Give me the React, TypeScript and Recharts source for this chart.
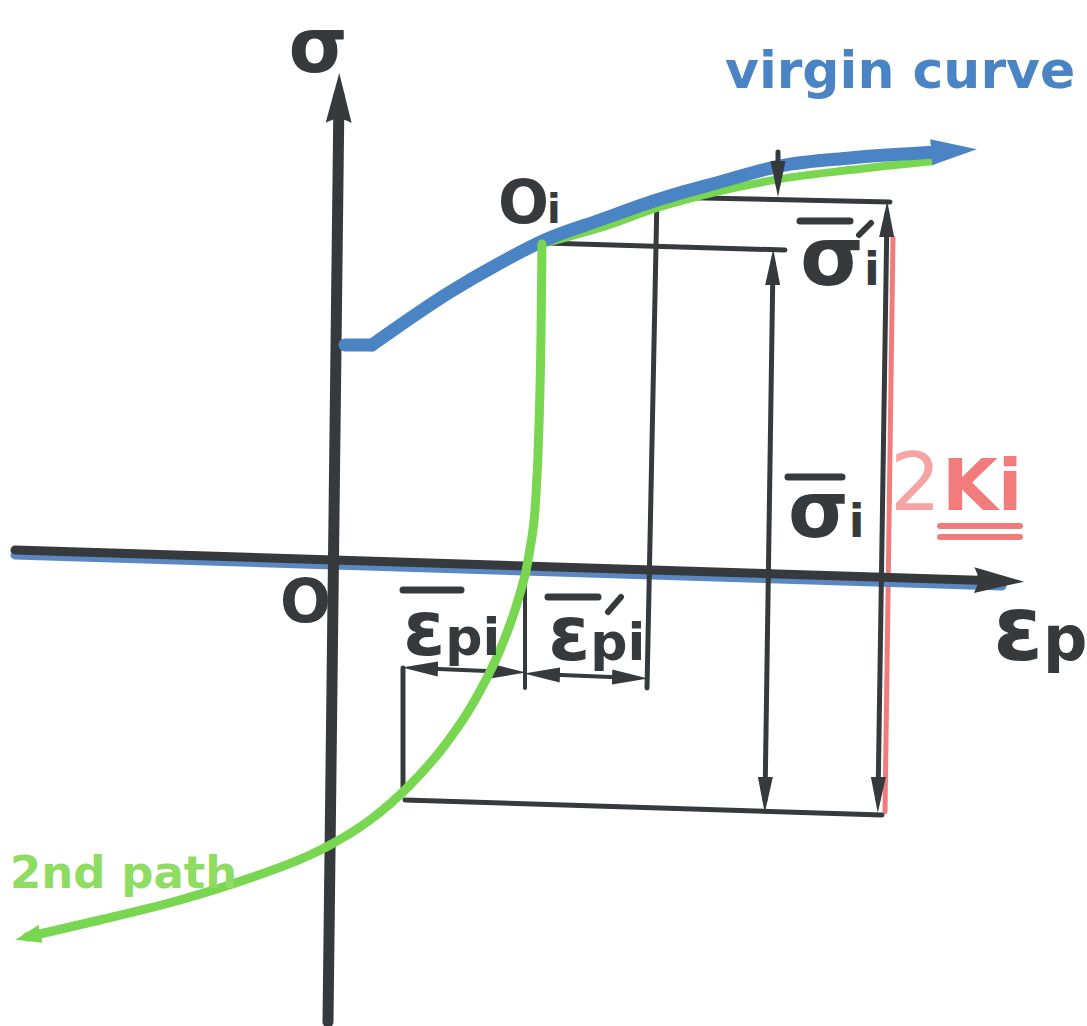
import React from 'react';
import { ComposedChart, Line, Scatter, XAxis, YAxis } from 'recharts';

const INK = '#363a3d';
const BLUE = '#4b84c4';
const GREEN = '#79d651';
const RED = '#f27c7c';
const FONT = '"DejaVu Sans", "Noto Sans", sans-serif';

type Pt = { x: number; y: number };

// sketch units: origin O at (0, 0), strain to the right, stress upwards
const sigmaAxis: Pt[] = [{ x: -2, y: -457 }, { x: 9, y: 470 }];
const strainAxis: Pt[] = [{ x: -315, y: 15 }, { x: 672, y: -16 }];

// initial yield plateau, then the hardening branch
const virginStart: Pt[] = [{ x: 15, y: 220 }, { x: 42, y: 220 }];
const virginCurve: Pt[] = [
  { x: 42, y: 220 }, { x: 120, y: 273 }, { x: 170, y: 302 }, { x: 215, y: 325 },
  { x: 270, y: 345 }, { x: 330, y: 366 }, { x: 390, y: 383 }, { x: 450, y: 399 },
  { x: 520, y: 407 }, { x: 590, y: 412 }, { x: 621, y: 414 },
];

const secondPathRise: Pt[] = [
  { x: -303, y: -372 }, { x: -230, y: -355 }, { x: -150, y: -335 }, { x: -80, y: -313 },
  { x: -20, y: -290 }, { x: 0, y: -280 }, { x: 40, y: -255 }, { x: 80, y: -220 },
  { x: 115, y: -180 }, { x: 145, y: -135 }, { x: 170, y: -85 }, { x: 188, y: -35 },
  { x: 199, y: 10 }, { x: 206, y: 70 }, { x: 209, y: 140 }, { x: 211, y: 230 },
  { x: 212, y: 321 },
];
const secondPathTop: Pt[] = [
  { x: 212, y: 321 }, { x: 270, y: 337 }, { x: 330, y: 358 }, { x: 390, y: 374 },
  { x: 450, y: 386 }, { x: 520, y: 395 }, { x: 603, y: 404 },
];

// dimension lines
const sigmaIPrimeLevel: Pt[] = [{ x: 325, y: 368 }, { x: 560, y: 363 }];
const epsPrimeEdge: Pt[] = [{ x: 327, y: 368 }, { x: 317, y: -123 }];
const sigmaIPrimeTick: Pt[] = [{ x: 448, y: 413 }, { x: 448, y: 381 }];
const sigmaILevel: Pt[] = [{ x: 215, y: 322 }, { x: 455, y: 315 }];
const sigmaIDim: Pt[] = [{ x: 443, y: 303 }, { x: 435, y: -235 }];
const kiDim: Pt[] = [{ x: 557, y: 351 }, { x: 548, y: -235 }];
const kiRed: Pt[] = [{ x: 563, y: 327 }, { x: 555, y: -247 }];
const baseLevel: Pt[] = [{ x: 75, y: -235 }, { x: 552, y: -250 }];
const leftEdge: Pt[] = [{ x: 73, y: -103 }, { x: 73, y: -227 }];
const junctionTick: Pt[] = [{ x: 195, y: -13 }, { x: 195, y: -123 }];
const epsPiDim: Pt[] = [{ x: 85, y: -103 }, { x: 183, y: -107 }];
const epsPiPrimeDim: Pt[] = [{ x: 207, y: -109 }, { x: 305, y: -113 }];

const notes = [
  { id: 'sigma', x: -12, y: 493 },
  { id: 'virgin', x: 395, y: 477 },
  { id: 'oi', x: 168, y: 342 },
  { id: 'origin', x: -50, y: -57 },
  { id: 'strain', x: 663, y: -95 },
  { id: 'epsPi', x: 73, y: -90 },
  { id: 'epsPiPrime', x: 218, y: -95 },
  { id: 'sigmaIPrime', x: 470, y: 280 },
  { id: 'sigmaI', x: 458, y: 28 },
  { id: 'twoKi', x: 560, y: 55 },
  { id: 'secondPath', x: -320, y: -323 },
];

const seg = (id: string, data: Pt[], stroke: string, width: number, extra: Record<string, unknown> = {}) => (
  <Line
    key={id}
    data={data}
    dataKey="y"
    type="linear"
    stroke={stroke}
    strokeWidth={width}
    strokeLinecap="round"
    strokeLinejoin="round"
    dot={false}
    activeDot={false}
    isAnimationActive={false}
    {...extra}
  />
);

const bar = (x1: number, y1: number, x2: number, y2: number, color = INK, w = 7) => (
  <line x1={x1} y1={y1} x2={x2} y2={y2} stroke={color} strokeWidth={w} strokeLinecap="round" />
);

function renderNote(props: any) {
  const { cx, cy, payload } = props;
  const base = { fontFamily: FONT, fontWeight: 700, fill: INK };
  switch (payload.id) {
    case 'sigma':
      return <text x={cx} y={cy} textAnchor="middle" fontSize={76} {...base}>σ</text>;
    case 'virgin':
      return (
        <text x={cx} y={cy} fontSize={52} {...base} fill={BLUE}>
          virgin curve
        </text>
      );
    case 'oi':
      return (
        <text x={cx} y={cy} fontSize={60} {...base}>
          O<tspan fontSize={40} dx={-2}>i</tspan>
        </text>
      );
    case 'origin':
      return <text x={cx} y={cy} fontSize={60} {...base}>O</text>;
    case 'strain':
      return (
        <text x={cx} y={cy} fontSize={90} {...base}>
          ε<tspan fontSize={62}>p</tspan>
        </text>
      );
    case 'epsPi':
      return (
        <g>
          {bar(cx, cy - 65, cx + 58, cy - 65)}
          <text x={cx} y={cy} fontSize={76} {...base}>
            ε<tspan fontSize={52}>pi</tspan>
          </text>
        </g>
      );
    case 'epsPiPrime':
      return (
        <g>
          {bar(cx, cy - 63, cx + 50, cy - 63)}
          {bar(cx + 60, cy - 48, cx + 73, cy - 63, INK, 6)}
          <text x={cx} y={cy} fontSize={76} {...base}>
            ε<tspan fontSize={52}>pi</tspan>
          </text>
        </g>
      );
    case 'sigmaIPrime':
      return (
        <g>
          {bar(cx, cy - 64, cx + 50, cy - 64)}
          {bar(cx + 59, cy - 50, cx + 71, cy - 62, INK, 6)}
          <text x={cx} y={cy} fontSize={82} {...base}>
            σ<tspan fontSize={46}>i</tspan>
          </text>
        </g>
      );
    case 'sigmaI':
      return (
        <g>
          {bar(cx, cy - 60, cx + 54, cy - 60)}
          <text x={cx} y={cy} fontSize={78} {...base}>
            σ<tspan fontSize={46}>i</tspan>
          </text>
        </g>
      );
    case 'twoKi':
      return (
        <g>
          <text x={cx} y={cy} fontSize={80} fontFamily={FONT} fill="#f6a3a3">2</text>
          <text x={cx + 52} y={cy} fontSize={72} fontFamily={FONT} fontWeight={700} fill={RED}>Ki</text>
          {bar(cx + 50, cy + 16, cx + 130, cy + 16, RED, 6)}
          {bar(cx + 50, cy + 27, cx + 130, cy + 27, RED, 6)}
        </g>
      );
    case 'secondPath':
      return (
        <text x={cx} y={cy} fontSize={45} {...base} fill="#8fdc62">
          2nd path
        </text>
      );
    default:
      return <g />;
  }
}

export default function App() {
  return (
    <div style={{ width: 1087, height: 1026, background: '#fff' }}>
      <style>{'body { margin: 0; }'}</style>
      <ComposedChart width={1087} height={1026} margin={{ top: 0, right: 0, bottom: 0, left: 0 }}>
        <defs>
          <marker id="headAxis" viewBox="0 0 50 30" markerWidth={50} markerHeight={30} refX={28} refY={15} orient="auto-start-reverse" markerUnits="userSpaceOnUse">
            <path d="M0 2 Q8 15 0 28 L50 15 Z" fill={INK} />
          </marker>
          <marker id="headDim" viewBox="0 0 36 17" markerWidth={36} markerHeight={17} refX={23} refY={8.5} orient="auto-start-reverse" markerUnits="userSpaceOnUse">
            <path d="M0 1 L36 8.5 L0 16 Z" fill={INK} />
          </marker>
          <marker id="headBlue" viewBox="0 0 46 26" markerWidth={46} markerHeight={26} refX={20} refY={13} orient="auto-start-reverse" markerUnits="userSpaceOnUse">
            <path d="M0 0 L46 13 L0 26 Z" fill={BLUE} />
          </marker>
          <marker id="headGreen" viewBox="0 0 26 18" markerWidth={26} markerHeight={18} refX={14} refY={9} orient="auto-start-reverse" markerUnits="userSpaceOnUse">
            <path d="M0 0 L26 9 L0 18 Z" fill={GREEN} />
          </marker>
        </defs>
        <XAxis type="number" dataKey="x" domain={[-330, 757]} hide allowDataOverflow />
        <YAxis type="number" domain={[-461, 565]} hide allowDataOverflow />

        {seg('kiRed', kiRed, RED, 5)}
        {seg('strainShade', strainAxis.map((p) => ({ x: p.x, y: p.y - 5 })), '#5b88c2', 9)}
        {seg('strainAxis', strainAxis, INK, 9, { markerEnd: 'url(#headAxis)' })}
        {seg('sigmaAxis', sigmaAxis, INK, 11, { markerEnd: 'url(#headAxis)' })}

        {seg('sigmaIPrimeLevel', sigmaIPrimeLevel, INK, 5)}
        {seg('epsPrimeEdge', epsPrimeEdge, INK, 5)}
        {seg('sigmaILevel', sigmaILevel, INK, 5)}
        {seg('sigmaIDim', sigmaIDim, INK, 5, { markerStart: 'url(#headDim)', markerEnd: 'url(#headDim)' })}
        {seg('kiDim', kiDim, INK, 5, { markerStart: 'url(#headDim)', markerEnd: 'url(#headDim)' })}
        {seg('baseLevel', baseLevel, INK, 5)}
        {seg('leftEdge', leftEdge, INK, 5)}
        {seg('junctionTick', junctionTick, INK, 4)}
        {seg('epsPiDim', epsPiDim, INK, 4, { markerStart: 'url(#headDim)', markerEnd: 'url(#headDim)' })}
        {seg('epsPiPrimeDim', epsPiPrimeDim, INK, 4, { markerStart: 'url(#headDim)', markerEnd: 'url(#headDim)' })}

        <Line data={secondPathTop} dataKey="y" type="monotone" stroke={GREEN} strokeWidth={8} strokeLinecap="round" dot={false} activeDot={false} isAnimationActive={false} />
        {seg('virginStart', virginStart, BLUE, 13)}
        <Line data={virginCurve} dataKey="y" type="monotone" stroke={BLUE} strokeWidth={13} strokeLinecap="round" dot={false} activeDot={false} isAnimationActive={false} markerEnd="url(#headBlue)" />
        <Line data={secondPathRise} dataKey="y" type="monotone" stroke={GREEN} strokeWidth={9} strokeLinecap="round" dot={false} activeDot={false} isAnimationActive={false} markerStart="url(#headGreen)" />
        {seg('sigmaIPrimeTick', sigmaIPrimeTick, INK, 5, { markerEnd: 'url(#headDim)' })}

        <Scatter data={notes} dataKey="y" isAnimationActive={false} shape={renderNote} />
      </ComposedChart>
    </div>
  );
}
